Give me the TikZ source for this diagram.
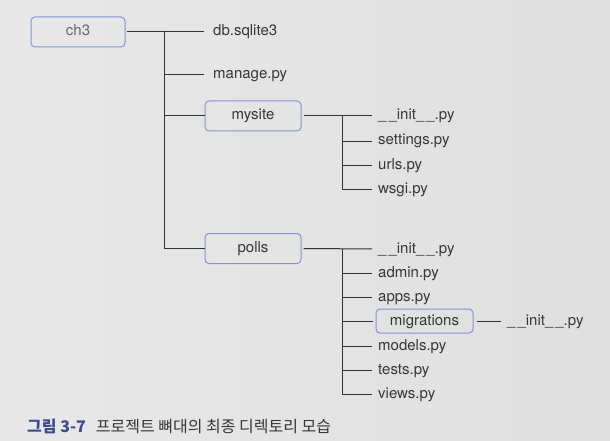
\documentclass[tikz,border=0pt]{standalone}
\usepackage{fontspec}
\setmainfont{TeX Gyre Heros}
\newfontfamily\kr{Noto Sans CJK KR}
\definecolor{bg}{HTML}{DFDFDF}
\definecolor{bgl}{HTML}{E8E8E8}
\definecolor{boxblue}{HTML}{8593D6}
\definecolor{txt}{HTML}{363636}
\definecolor{lin}{HTML}{333333}
\definecolor{capblue}{HTML}{3D4A8C}
\begin{document}
\begin{tikzpicture}[x=1pt,y=-1pt,
  dirbox/.style={draw=boxblue, rounded corners=4pt, line width=1pt, minimum width=96pt, minimum height=30pt, inner sep=0pt, text height=8pt, text depth=0pt, font=\fontsize{15}{18}\selectfont, text=txt},
  file/.style={anchor=west, inner sep=0pt, text height=8pt, text depth=0pt, font=\fontsize{15}{18}\selectfont, text=txt},
  conn/.style={draw=lin, line width=1pt}]
\shade[left color=bgl, right color=bg] (0,0) rectangle (610,441);
\useasboundingbox (0,0) rectangle (610,441);
% top level
\node[dirbox, minimum width=94pt, text=txt!75] (ch3) at (78,32) {ch3};
\node[file] (db) at (213,32) {db.sqlite3};
\node[file] (manage) at (213,75) {manage.py};
\node[dirbox] (mysite) at (253,116) {mysite};
\node[dirbox] (polls) at (253,248.5) {polls};
\coordinate (j1) at (164,32);
\draw[conn, shorten <=1pt, shorten >=9pt] (ch3.east) -- (db.west);
\draw[conn, shorten >=9pt] (j1 |- manage.west) -- (manage.west);
\draw[conn] (j1) |- (polls.west);
\draw[conn] (j1 |- mysite.west) -- (mysite.west);
% mysite
\node[file] (mi) at (378,116) {\_\hspace{2pt}\_init\_\hspace{2pt}\_.py};
\node[file] (settings) at (378,141) {settings.py};
\node[file] (urls) at (378,165) {urls.py};
\node[file] (wsgi) at (378,189) {wsgi.py};
\coordinate (j2) at (342,116);
\draw[conn, shorten <=2pt, shorten >=6pt] (mysite.east) -- (mi.west);
\draw[conn, shorten >=6pt] (j2) |- (wsgi.west);
\draw[conn, shorten >=6pt] (j2 |- settings.west) -- (settings.west);
\draw[conn, shorten >=6pt] (j2 |- urls.west) -- (urls.west);
% polls
\node[file] (pi) at (378,249) {\_\hspace{2pt}\_init\_\hspace{2pt}\_.py};
\node[file] (admin) at (378,273) {admin.py};
\node[file] (apps) at (378,297) {apps.py};
\node[dirbox, minimum width=97pt, minimum height=24pt] (migr) at (424.5,321) {migrations};
\node[file] (models) at (378,346) {models.py};
\node[file] (tests) at (378,370) {tests.py};
\node[file] (views) at (378,394) {views.py};
\coordinate (j3) at (342,249);
\draw[conn, shorten <=2pt, shorten >=6pt] (polls.east) -- (pi.west);
\draw[conn, shorten >=6pt] (j3) |- (views.west);
\draw[conn, shorten >=6pt] (j3 |- admin.west) -- (admin.west);
\draw[conn, shorten >=6pt] (j3 |- apps.west) -- (apps.west);
\draw[conn, shorten >=3pt] (j3 |- migr.west) -- (migr.west);
\draw[conn, shorten >=6pt] (j3 |- models.west) -- (models.west);
\draw[conn, shorten >=6pt] (j3 |- tests.west) -- (tests.west);
% migrations
\node[file] (mgi) at (507,321) {\_\hspace{2pt}\_init\_\hspace{2pt}\_.py};
\draw[conn, shorten <=3pt, shorten >=6pt] (migr.east) -- (mgi.west);
% caption
\node[anchor=west, inner sep=0pt, font=\kr\fontsize{16}{18}\selectfont, text=txt] (cap) at (27,426)
  {{\bfseries\color{capblue}그림 3-7}\hspace{10pt}프로젝트 뼈대의 최종 디렉토리 모습};
\end{tikzpicture}
\end{document}
